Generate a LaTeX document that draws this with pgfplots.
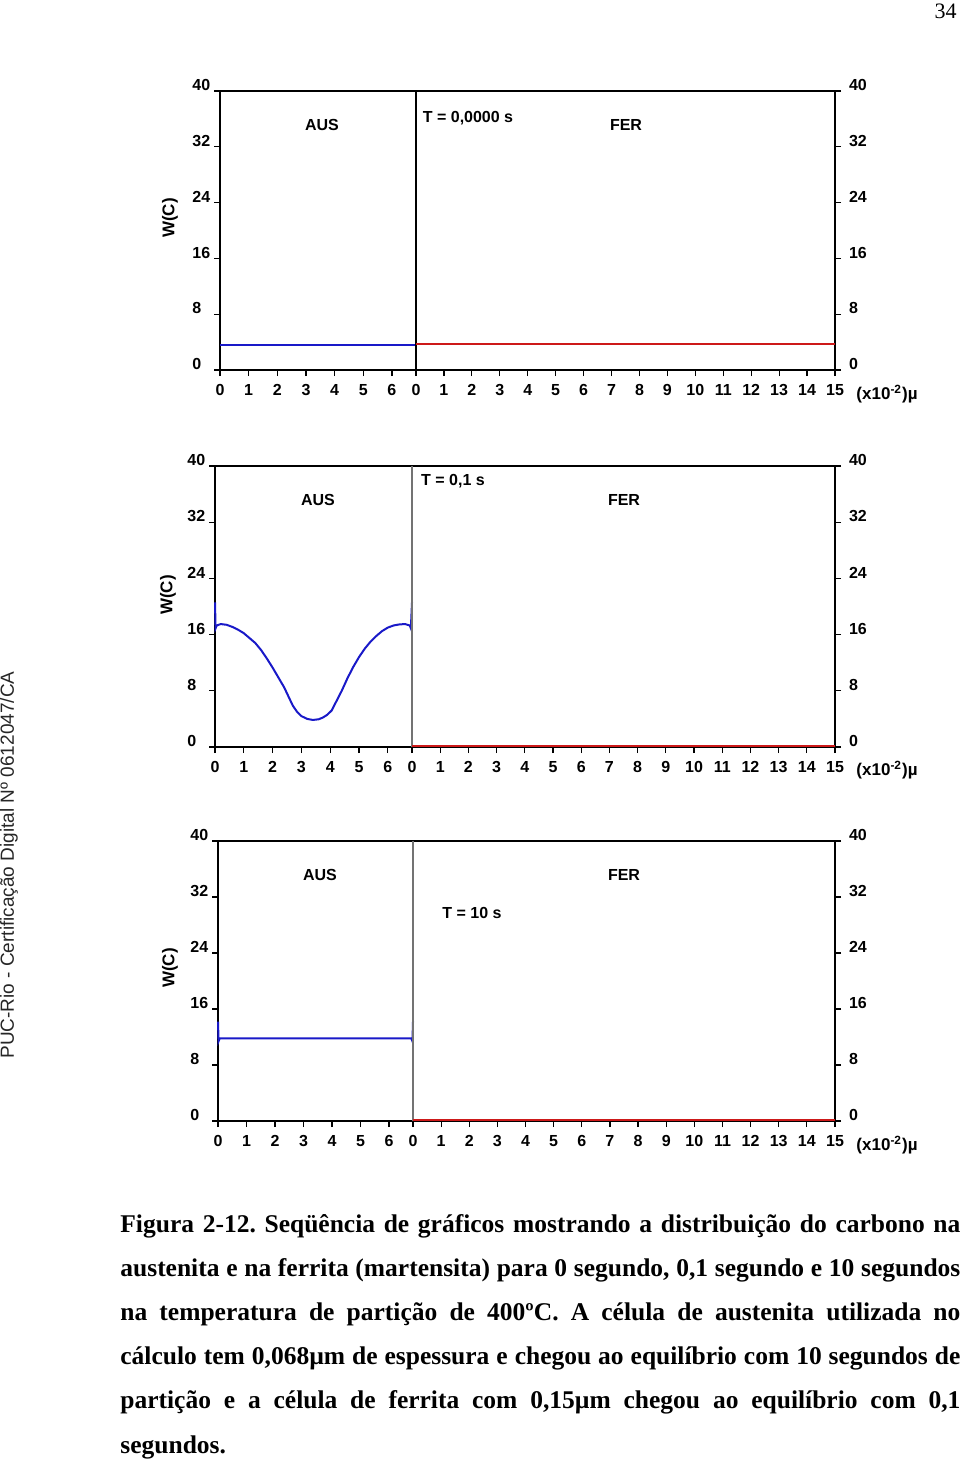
\documentclass[border=0pt]{standalone}
\usepackage{pgfplots}
\pgfplotsset{compat=1.18}
\usepackage{fontspec}
\setmainfont{Liberation Serif}
\newfontfamily\arial{Liberation Sans}
\definecolor{cblue}{RGB}{25,25,200}
\definecolor{cred}{RGB}{205,25,25}

\pgfplotsset{
  panel/.style={
    scale only axis, ymin=0, ymax=40, ytick={0,8,...,40},
    tick align=outside, major tick length=3pt,
    axis line style={-, line width=0.7pt},
    every tick/.style={black, line width=0.6pt},
    tick label style={font=\arial\bfseries\fontsize{8}{9}\selectfont},
    /pgf/number format/assume math mode=true,
    xtick pos=left, clip=false,
    xticklabel style={anchor=north, yshift=-0.5pt},
  },
  leftpanel/.style={panel, xmin=0, xmax=6.84, xtick={0,...,6},
    axis x line*=box, axis y line*=left,
    ytick pos=left, yticklabel pos=left,
    yticklabel style={anchor=south west, yshift=-3.5pt, xshift=-14.3pt}},
  rightpanel/.style={panel, xmin=0, xmax=15, xtick={0,...,15},
    axis x line*=box, axis y line*=right,
    ytick pos=right, yticklabel pos=right,
    yticklabel style={anchor=south west, yshift=-3.5pt, xshift=0.5pt}},
}

\begin{document}
\begin{tikzpicture}
\path[use as bounding box] (0,0) rectangle (480pt,-730pt);

% page number and side text
\node[anchor=base east, inner sep=0pt, font=\fontsize{11}{12}\selectfont] at (478.5pt,-9.5pt) {34};
\node[rotate=90, inner sep=0pt, font=\arial\fontsize{9.5}{11}\selectfont, text=black!85] at (4.5pt,-432.5pt) {PUC-Rio - Certificação Digital Nº 0612047/CA};

% ---------------- Panel 1 ----------------
\begin{axis}[leftpanel, at={(110pt,-185pt)}, anchor=south west, width=98pt, height=139.5pt]
\addplot[cblue, line width=1pt] coordinates {(0,3.6) (6.84,3.6)};
\end{axis}
\begin{axis}[rightpanel, at={(208pt,-185pt)}, anchor=south west, width=209.5pt, height=139.5pt]
\draw[black, line width=0.6pt] (rel axis cs:0,0) -- (rel axis cs:0,1);
\addplot[cred, line width=1pt] coordinates {(0,3.7) (15,3.7)};
\end{axis}
\node[font=\arial\bfseries\fontsize{8.5}{10}\selectfont, rotate=90] at (85pt,-109pt) {W(C)};
\node[font=\arial\bfseries\fontsize{8}{10}\selectfont] at (161pt,-62.5pt) {AUS};
\node[font=\arial\bfseries\fontsize{8}{10}\selectfont] at (234pt,-59pt) {T = 0,0000 s};
\node[font=\arial\bfseries\fontsize{8}{10}\selectfont] at (313pt,-62.5pt) {FER};
\node[font=\arial\bfseries\fontsize{8.5}{10}\selectfont] at (443.5pt,-197pt) {(x10\textsuperscript{-2})µ};

% ---------------- Panel 2 ----------------
\begin{axis}[leftpanel, at={(107.5pt,-373.5pt)}, anchor=south west, width=98.5pt, height=140.5pt]
\addplot[cblue, line width=1pt] coordinates {
(0,20.6) (0.02,16.9) (0.06,17.3) (0.2,17.5) (0.4,17.4) (0.6,17.1) (0.8,16.7)
(1.0,16.2) (1.2,15.5) (1.4,14.8) (1.6,13.8) (1.8,12.6) (2.0,11.3) (2.2,9.9)
(2.4,8.5) (2.55,7.2) (2.7,5.9) (2.85,5.0) (3.0,4.4) (3.2,4.0) (3.4,3.85)
(3.6,3.95) (3.75,4.2) (3.9,4.6) (4.05,5.2) (4.2,6.4) (4.4,8.0) (4.6,9.8)
(4.8,11.4) (5.0,12.8) (5.2,14.0) (5.4,15.0) (5.6,15.8) (5.8,16.5) (6.0,17.0)
(6.2,17.3) (6.4,17.45) (6.6,17.5) (6.76,17.3) (6.80,16.9) (6.84,20.6)};
\end{axis}
\begin{axis}[rightpanel, at={(206pt,-373.5pt)}, anchor=south west, width=211.5pt, height=140.5pt]
\draw[black!55, line width=0.6pt] (rel axis cs:0,0) -- (rel axis cs:0,1);
\addplot[cred, line width=1.2pt] coordinates {(0,0.15) (15,0.15)};
\end{axis}
\node[font=\arial\bfseries\fontsize{8.5}{10}\selectfont, rotate=90] at (84pt,-297.5pt) {W(C)};
\node[font=\arial\bfseries\fontsize{8}{10}\selectfont] at (159pt,-250pt) {AUS};
\node[font=\arial\bfseries\fontsize{8}{10}\selectfont] at (226.5pt,-240.5pt) {T = 0,1 s};
\node[font=\arial\bfseries\fontsize{8}{10}\selectfont] at (312pt,-250pt) {FER};
\node[font=\arial\bfseries\fontsize{8.5}{10}\selectfont] at (443.5pt,-385pt) {(x10\textsuperscript{-2})µ};

% ---------------- Panel 3 ----------------
\begin{axis}[leftpanel, at={(109pt,-560.5pt)}, anchor=south west, width=97.5pt, height=140pt]
\addplot[cblue, line width=1pt] coordinates {
(0,14.2) (0.02,11.4) (0.06,11.8) (3.4,11.8) (6.78,11.8) (6.82,11.4) (6.84,14.2)};
\end{axis}
\begin{axis}[rightpanel, at={(206.5pt,-560.5pt)}, anchor=south west, width=211pt, height=140pt]
\draw[black!55, line width=0.6pt] (rel axis cs:0,0) -- (rel axis cs:0,1);
\addplot[cred, line width=1.2pt] coordinates {(0,0.15) (15,0.15)};
\end{axis}
\node[font=\arial\bfseries\fontsize{8.5}{10}\selectfont, rotate=90] at (85pt,-484pt) {W(C)};
\node[font=\arial\bfseries\fontsize{8}{10}\selectfont] at (160pt,-437.5pt) {AUS};
\node[font=\arial\bfseries\fontsize{8}{10}\selectfont] at (236pt,-456.5pt) {T = 10 s};
\node[font=\arial\bfseries\fontsize{8}{10}\selectfont] at (312pt,-437.5pt) {FER};
\node[font=\arial\bfseries\fontsize{8.5}{10}\selectfont] at (443.5pt,-572.5pt) {(x10\textsuperscript{-2})µ};

% ---------------- Caption ----------------
\node[anchor=base west, inner sep=0pt, text width=420pt, align=justify,
      font=\bfseries\fontsize{12.75}{22.1}\selectfont\frenchspacing] at (60pt,-616pt) {%
Figura 2-12. Seqüência de gráficos mostrando a distribuição do carbono na\linebreak
austenita e na ferrita (martensita) para 0 segundo, 0,1 segundo e 10 segundos\linebreak
na temperatura de partição de 400ºC. A célula de austenita utilizada no\linebreak
cálculo tem 0,068µm de espessura e chegou ao equilíbrio com 10 segundos de\linebreak
partição e a célula de ferrita com 0,15µm chegou ao equilíbrio com 0,1\linebreak
segundos.};
\end{tikzpicture}
\end{document}
